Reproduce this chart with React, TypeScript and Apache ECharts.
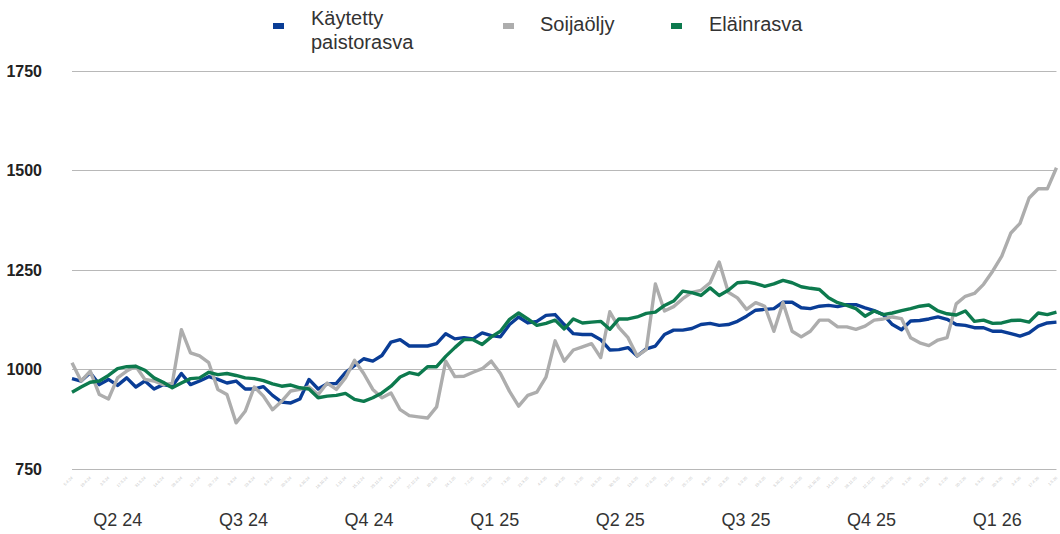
import React, { useEffect, useRef } from "react";
import * as echarts from "echarts";

// Weekly price index series
const kaytettyPaistorasva = [
  977, 971, 992, 962, 975, 960, 979, 956, 971, 951, 962, 958, 990, 962, 971, 982, 975, 966, 971, 951,
  951, 957, 935, 918, 916, 926, 975, 951, 964, 965, 992, 1010, 1027, 1021, 1035, 1069, 1075, 1059, 1059, 1059,
  1065, 1090, 1077, 1080, 1077, 1092, 1085, 1082, 1113, 1132, 1117, 1121, 1136, 1138, 1113, 1090, 1088, 1088, 1075, 1049,
  1050, 1055, 1034, 1052, 1059, 1088, 1099, 1099, 1103, 1113, 1116, 1111, 1113, 1121, 1134, 1149, 1151, 1153, 1169, 1169,
  1155, 1153, 1159, 1161, 1158, 1163, 1163, 1155, 1148, 1138, 1113, 1100, 1122, 1123, 1127, 1132, 1126, 1113, 1111, 1105,
  1105, 1096, 1096, 1090, 1084, 1092, 1109, 1117, 1119,
];

const soijaoljy = [
  1017, 971, 996, 937, 926, 979, 996, 1008, 975, 971, 962, 965, 1100, 1042, 1034, 1017, 950, 937, 866, 895,
  956, 933, 899, 920, 946, 950, 956, 937, 966, 950, 979, 1023, 990, 950, 929, 941, 899, 884, 881, 878,
  906, 1021, 982, 983, 993, 1002, 1021, 990, 945, 908, 935, 943, 981, 1072, 1021, 1049, 1057, 1065, 1030, 1145,
  1105, 1080, 1034, 1050, 1215, 1147, 1158, 1178, 1194, 1199, 1218, 1270, 1194, 1180, 1151, 1168, 1159, 1096, 1168, 1096,
  1082, 1096, 1124, 1124, 1107, 1107, 1101, 1109, 1124, 1127, 1132, 1128, 1080, 1067, 1060, 1074, 1080, 1165, 1184, 1191,
  1214, 1247, 1285, 1343, 1367, 1431, 1454, 1454, 1507,
];

const elainrasva = [
  943, 956, 968, 971, 985, 1002, 1007, 1008, 998, 979, 968, 954, 966, 977, 979, 993, 987, 990, 985, 979,
  977, 972, 964, 958, 961, 954, 951, 929, 933, 935, 940, 925, 920, 929, 941, 958, 981, 992, 987, 1007,
  1007, 1033, 1055, 1075, 1075, 1063, 1082, 1096, 1126, 1142, 1127, 1111, 1116, 1124, 1102, 1127, 1117, 1119, 1121, 1101,
  1127, 1127, 1132, 1141, 1144, 1161, 1172, 1197, 1193, 1186, 1205, 1186, 1199, 1218, 1220, 1216, 1209, 1215, 1224, 1218,
  1208, 1204, 1201, 1180, 1168, 1161, 1153, 1134, 1147, 1138, 1142, 1148, 1153, 1159, 1162, 1147, 1140, 1137, 1147, 1121,
  1124, 1116, 1117, 1123, 1124, 1119, 1142, 1138, 1144,
];

const quarters = ["Q2 24", "Q3 24", "Q4 24", "Q1 25", "Q2 25", "Q3 25", "Q4 25", "Q1 26"];
const yTicks = { min: 750, max: 1750, interval: 250 };
const seriesNames = ["Käytetty paistorasva", "Soijaöljy", "Eläinrasva"];
const colors = ["#0a3d96", "#adadad", "#0d7a4e"];

// weekly category labels (tiny, unreadable in the reference)
function weekLabels(n: number): string[] {
  const out: string[] = [];
  const d0 = new Date(Date.UTC(2024, 3, 5));
  for (let i = 0; i < n; i++) {
    const d = new Date(d0.getTime() + i * 7 * 86400000);
    out.push(`${d.getUTCDate()}.${d.getUTCMonth() + 1}.${String(d.getUTCFullYear()).slice(2)}`);
  }
  return out;
}
const weeks = weekLabels(kaytettyPaistorasva.length);

const FONT = "'Liberation Sans', Arial, sans-serif";

export default function App() {
  const ref = useRef<HTMLDivElement>(null);
  useEffect(() => {
    if (!ref.current) return;
    const chart = echarts.init(ref.current, undefined, { renderer: "svg" });
    const lineSeries = (name: string, data: number[], color: string, z: number) => ({
      name,
      type: "line",
      data,
      xAxisIndex: 0,
      yAxisIndex: 0,
      symbol: "none",
      z,
      lineStyle: { width: 3.4, color, join: "round" },
      itemStyle: { color },
    });
    chart.setOption({
      animation: false,
      backgroundColor: "#ffffff",
      textStyle: { fontFamily: FONT },
      grid: [
        { left: 72, right: 0, top: 71, height: 398 },
        { left: 55, width: 1006, top: 480, height: 10 },
      ],
      xAxis: [
        {
          type: "category",
          gridIndex: 0,
          data: weeks,
          boundaryGap: false,
          axisLine: { show: false },
          axisTick: { show: false },
          axisLabel: { interval: 1, fontSize: 4, color: "#c4c4c4", rotate: 45, margin: 8, fontFamily: FONT },
        },
        {
          type: "category",
          gridIndex: 1,
          data: quarters,
          boundaryGap: true,
          axisLine: { show: false },
          axisTick: { show: false },
          axisLabel: { fontSize: 18, color: "#333333", margin: 21, fontFamily: FONT },
        },
      ],
      yAxis: [
        {
          type: "value",
          gridIndex: 0,
          min: yTicks.min,
          max: yTicks.max,
          interval: yTicks.interval,
          axisLine: { show: false },
          axisTick: { show: false },
          axisLabel: {
            fontSize: 16,
            fontWeight: "bold",
            color: "#222222",
            margin: 30,
            fontFamily: FONT,
            formatter: (v: number) => String(v),
          },
          splitLine: { lineStyle: { color: "#b8b8b8", width: 1.2 } },
        },
        { type: "value", gridIndex: 1, show: false },
      ],
      series: [
        lineSeries(seriesNames[0], kaytettyPaistorasva, colors[0], 2),
        lineSeries(seriesNames[1], soijaoljy, colors[1], 3),
        lineSeries(seriesNames[2], elainrasva, colors[2], 4),
      ],
      graphic: [
        { type: "rect", left: 273, top: 23, shape: { width: 11, height: 6 }, style: { fill: colors[0] } },
        {
          type: "text",
          left: 311,
          top: 6,
          style: { text: "Käytetty\npaistorasva", font: `20px ${FONT}`, fill: "#333333", lineHeight: 24 },
        },
        { type: "rect", left: 503, top: 23, shape: { width: 11, height: 6 }, style: { fill: colors[1] } },
        {
          type: "text",
          left: 540,
          top: 12,
          style: { text: "Soijaöljy", font: `20px ${FONT}`, fill: "#333333", lineHeight: 24 },
        },
        { type: "rect", left: 671, top: 23, shape: { width: 11, height: 6 }, style: { fill: colors[2] } },
        {
          type: "text",
          left: 709,
          top: 12,
          style: { text: "Eläinrasva", font: `20px ${FONT}`, fill: "#333333", lineHeight: 24 },
        },
      ],
    });
    return () => chart.dispose();
  }, []);
  return (
    <div style={{ position: "fixed", left: 0, top: 0, width: 1060, height: 534, overflow: "hidden" }}>
      <div ref={ref} style={{ width: 1060, height: 534 }} />
    </div>
  );
}
